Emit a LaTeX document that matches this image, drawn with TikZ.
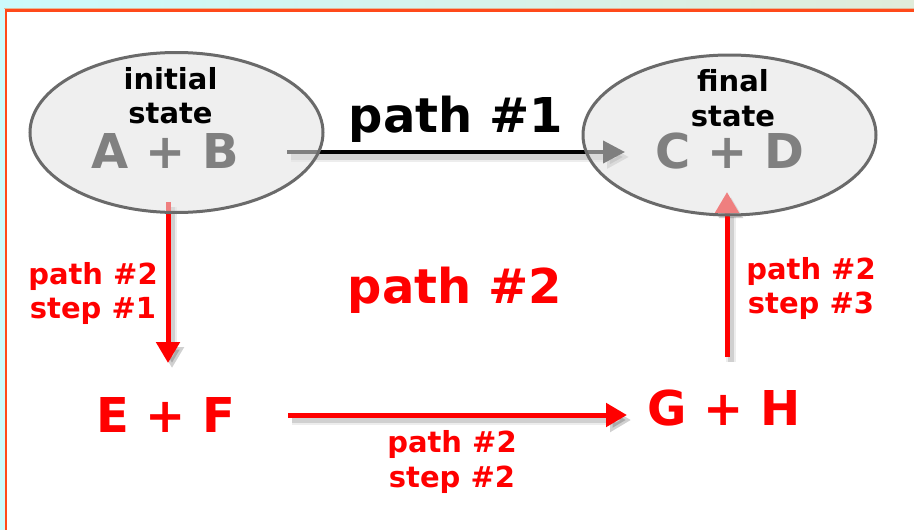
\documentclass[tikz,border=0pt]{standalone}
\usepackage{fontspec}
\setmainfont{DejaVu Sans}
\usetikzlibrary{arrows.meta,shapes.geometric}
\definecolor{skycyan}{HTML}{CCFAFC}
\definecolor{sagepale}{HTML}{E0ECDA}
\definecolor{framered}{HTML}{FF4A1A}
\definecolor{frametan}{HTML}{E6B898}
\definecolor{ringgray}{HTML}{6A6A6A}
\definecolor{formulagray}{HTML}{808080}
\definecolor{stepred}{HTML}{FF0000}
\pgfdeclarelayer{back}
\pgfsetlayers{back,main}
\begin{document}
\begin{tikzpicture}[x=1pt,y=-1pt,
  every node/.style={inner sep=0pt,outer sep=0pt},
  bigtext/.style={anchor=base,font=\fontsize{48}{48}\selectfont\bfseries},
  smalltext/.style={anchor=base,font=\fontsize{29}{34}\selectfont\bfseries},
  statering/.style={ellipse,draw=ringgray,line width=3pt,fill=black!11,
    fill opacity=0.56,draw opacity=1,text opacity=1,
    minimum width=293pt,minimum height=160pt},
  softshadow/.style={
    preaction={draw=black,draw opacity=0.07,fill opacity=0.07,line width=10pt,
      transform canvas={shift={(4pt,-5pt)}}},
    preaction={draw=black,draw opacity=0.12,fill opacity=0.12,line width=6pt,
      transform canvas={shift={(4pt,-5pt)}}}},
  blackarrow/.style={draw=black,line width=4pt,
    -{Triangle[width=22pt,length=22pt]},softshadow},
  redarrow/.style={draw=stepred,line width=5pt,
    -{Triangle[width=23pt,length=21pt]},softshadow}]
\useasboundingbox (0,0) rectangle (914,530);

% backdrop and frame
\begin{pgfonlayer}{back}
  \shade[left color=skycyan,right color=sagepale] (0,0) rectangle (914,530);
  \fill[white] (6,10) rectangle (914,530);
  \draw[frametan,line width=1pt] (4,8.5) -- (914,8.5);
  \draw[framered,line width=2.5pt] (6,530) -- (6,10.5) -- (914,10.5);
\end{pgfonlayer}

% the two states
\node[statering] (initial) at (176.5,132.5) {};
\node[statering] (final) at (729.5,135) {};

% arrow end points
\coordinate (ABout) at (287,152);
\coordinate (CDin) at (625,152);
\coordinate (ABdown) at (168,202);
\coordinate (EFin) at (168,363);
\coordinate (EFout) at (288,415);
\coordinate (GHin) at (627,415);
\coordinate (GHup) at (727,357);
\coordinate (CDup) at (727,192);

\begin{pgfonlayer}{back}
  \draw[blackarrow] (ABout) -- (CDin);
  \draw[redarrow] (ABdown) -- (EFin);
  \draw[redarrow] (EFout) -- (GHin);
  \draw[redarrow] (GHup) -- (CDup);
\end{pgfonlayer}

% texts in the states
\node[smalltext] (tinit) at (170.5,89) {initial};
\node[smalltext] (tstateA) at (170.5,123) {state};
\node[bigtext,text=formulagray] (AB) at (165,168) {A + B};
\node[smalltext] (tfinal) at (733,91) {final};
\node[smalltext] (tstateC) at (733,126) {state};
\node[bigtext,text=formulagray] (CD) at (730,168) {C + D};

% path labels
\node[bigtext] (path1) at (456,132) {path \#1};
\node[bigtext,text=stepred] (path2) at (455,303) {path \#2};
\node[bigtext,text=stepred] (EF) at (166,432) {E + F};
\node[bigtext,text=stepred] (GH) at (724,425) {G + H};

\node[smalltext,text=stepred] (s1a) at (93,284) {path \#2};
\node[smalltext,text=stepred] (s1b) at (93,318) {step \#1};
\node[smalltext,text=stepred] (s2a) at (452,452) {path \#2};
\node[smalltext,text=stepred] (s2b) at (452,487) {step \#2};
\node[smalltext,text=stepred] (s3a) at (811,279) {path \#2};
\node[smalltext,text=stepred] (s3b) at (811,313) {step \#3};
\end{tikzpicture}
\end{document}
